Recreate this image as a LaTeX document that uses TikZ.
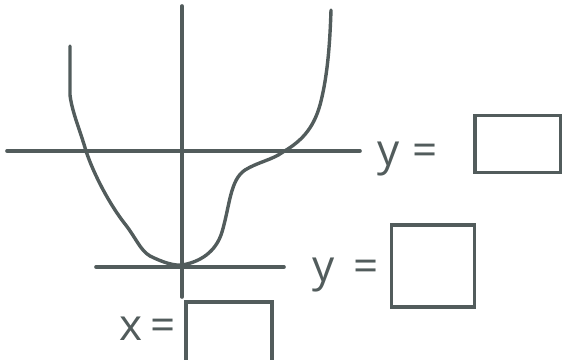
\documentclass[tikz,border=0pt]{standalone}
\usepackage{fontspec}
\newfontfamily\handfont{Open Sans}
\usetikzlibrary{positioning}
\definecolor{figK}{RGB}{82,92,92}

\begin{document}
\begin{tikzpicture}[x=1pt,y=-1pt,line width=3.6pt,figK,line cap=round,
  ansbox/.style={draw,line width=3.4pt,line cap=rect,inner sep=0pt},
  lbl/.style={font=\handfont\fontsize{44}{44}\selectfont,inner sep=0pt}]
\useasboundingbox (0,0) rectangle (562,359);
% axes and the two level lines
\coordinate (ytop) at (182,6); \coordinate (ybot) at (182,297);
\coordinate (hl) at (7,151); \coordinate (hr) at (360,151);
\coordinate (ll) at (96,267); \coordinate (lr) at (284,267);
\draw (ytop)--(ybot);
\draw (hl)--(hr);
\draw (ll)--(lr);
% the curve
\draw[line width=3.4pt,line join=round] (70,46) -- (70,95) .. controls (72,112) and (80,130) .. (86,151)
  .. controls (94,175) and (110,205) .. (125,224) .. controls (136,238) and (140,250) .. (150,256)
  .. controls (162,262) and (174,266) .. (182,265) .. controls (200,262) and (216,252) .. (222,232)
  .. controls (230,205) and (230,180) .. (245,170) .. controls (258,162) and (272,160) .. (283,152)
  .. controls (300,142) and (313,130) .. (320,105) .. controls (328,75) and (330,40) .. (331,10);
% answer boxes
\node[ansbox,minimum width=86pt,minimum height=57pt] (boxA) at (518,144) {};
\node[ansbox,minimum width=83pt,minimum height=82pt] (boxB) at (433,266) {};
\node[ansbox,minimum width=86pt,minimum height=60pt] (boxC) at (229,332) {};
\node[lbl,left=34pt of boxA,yshift=-15pt] (labA) {y\;=};
\node[lbl,left=9pt of boxB,yshift=-9pt] (labB) {y\;\,=};
\node[lbl,left=7pt of boxC,yshift=3pt] (labC) {x\,=};
\end{tikzpicture}
\end{document}
